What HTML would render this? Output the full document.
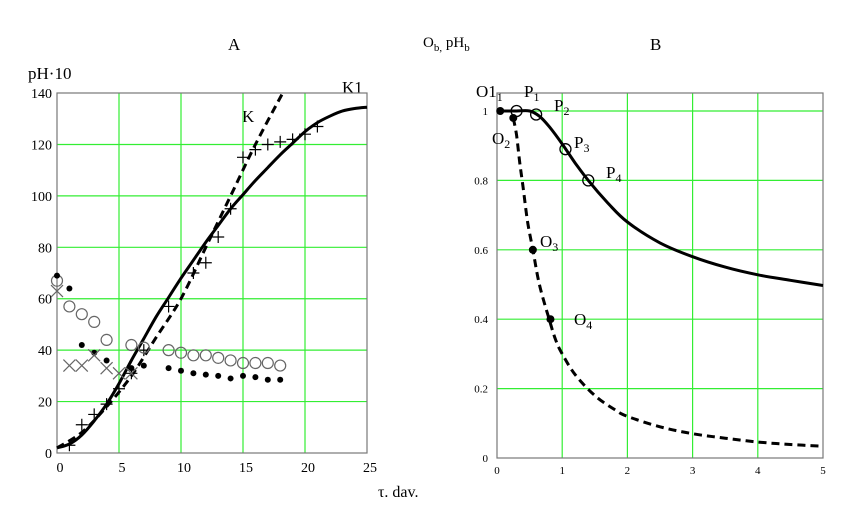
<!DOCTYPE html>
<html><head><meta charset="utf-8"><style>
body{margin:0;background:#fff;}
svg{display:block;font-family:"Liberation Serif",serif;}
</style></head><body>
<svg id="s" width="845" height="506" xmlns="http://www.w3.org/2000/svg">
<text x="228" y="50" font-size="17">A</text>
<text x="650" y="50" font-size="17">B</text>
<text x="423" y="47" font-size="15">O<tspan font-size="11" dy="4">b,</tspan><tspan dy="-4"> pH</tspan><tspan font-size="11" dy="4">b</tspan></text>
<text x="378" y="497" font-size="16">τ. dav.</text>
<text x="28" y="79" font-size="17">pH·10</text>
<text x="242" y="122" font-size="17">K</text>
<text x="342" y="93" font-size="17">K1</text>
<g id="g"></g>
</svg>
<script>
var NS="http://www.w3.org/2000/svg",g=document.getElementById("g");
function el(t,a,txt){var e=document.createElementNS(NS,t);for(var k in a)e.setAttribute(k,a[k]);if(txt!==undefined)e.textContent=txt;g.appendChild(e);return e;}
function AX(t){return 57+12.4*t}function AY(v){return 453-2.571*v}
for(var i=1;i<5;i++){el("line",{x1:AX(i*5),x2:AX(i*5),y1:93,y2:453,stroke:"#33ee33","stroke-width":1.2});}
for(var i=1;i<7;i++){el("line",{x1:57,x2:367,y1:AY(i*20),y2:AY(i*20),stroke:"#33ee33","stroke-width":1.2});}
el("rect",{x:57,y:93,width:310,height:360,fill:"none",stroke:"#777","stroke-width":1.2});
for(var i=0;i<=7;i++)el("text",{x:52,y:AY(i*20)+5,"font-size":14,"text-anchor":"end"},""+i*20);
for(var i=0;i<=5;i++)el("text",{x:AX(i*5)+3,y:472,"font-size":14,"text-anchor":"middle"},""+i*5);
function pl(pts,fx,fy,extra){
 var P=pts.map(function(p){return [fx(p[0]),fy(p[1])]});
 var d="M"+P[0][0].toFixed(1)+","+P[0][1].toFixed(1);
 for(var i=0;i<P.length-1;i++){var p0=P[i>0?i-1:0],p1=P[i],p2=P[i+1],p3=P[i+2<P.length?i+2:i+1];
  var c1=[p1[0]+(p2[0]-p0[0])/6,p1[1]+(p2[1]-p0[1])/6],c2=[p2[0]-(p3[0]-p1[0])/6,p2[1]-(p3[1]-p1[1])/6];
  d+="C"+c1[0].toFixed(1)+","+c1[1].toFixed(1)+" "+c2[0].toFixed(1)+","+c2[1].toFixed(1)+" "+p2[0].toFixed(1)+","+p2[1].toFixed(1);}
 var a={d:d,fill:"none",stroke:"#000","stroke-width":3};for(var k in extra)a[k]=extra[k];el("path",a);}
pl([[0,2],[1,3.5],[2,7],[3,12.5],[4,19],[5,27],[6,36],[7,44.5],[8,53],[9,60.5],[10,68],[11,75],[12,82],[13,88.5],[14,95],[15,100.5],[16,106],[17,111],[18,116],[19,120.5],[20,125],[21,128.5],[22,131],[23,133],[24,134],[25,134.5]],AX,AY);
pl([[0,2],[2,8],[4,18],[6,30],[8,45],[10,60],[12,80],[14,100],[16,120],[18.2,140]],AX,AY,{"stroke-dasharray":"8,5"});
[[1,3],[2,11],[3,15],[4,19],[5,25],[6,31],[7,40],[9,57],[11,70],[12,74],[13,84],[14,95],[15,115],[16,118],[17,120],[18,121],[19,122],[20,124],[21,127]].forEach(function(p){var x=AX(p[0]),y=AY(p[1]);el("path",{d:"M"+(x-6)+","+y+"h12M"+x+","+(y-6)+"v12",stroke:"#000","stroke-width":1.2});});
[[0,67],[1,57],[2,54],[3,51],[4,44],[6,42],[7,41],[9,40],[10,39],[11,38],[12,38],[13,37],[14,36],[15,35],[16,35],[17,35],[18,34]].forEach(function(p){el("circle",{cx:AX(p[0]),cy:AY(p[1]),r:5.5,fill:"none",stroke:"#666","stroke-width":1.2});});
[[0,69],[1,64],[2,42],[3,39],[4,36],[6,33],[7,34],[9,33],[10,32],[11,31],[12,30.5],[13,30],[14,29],[15,30],[16,29.5],[17,28.5],[18,28.5]].forEach(function(p){el("circle",{cx:AX(p[0]),cy:AY(p[1]),r:3,fill:"#000"});});
[[0,63],[1,34],[2,34],[3,38],[4,33],[5,31],[6,31]].forEach(function(p){var x=AX(p[0]),y=AY(p[1]);el("path",{d:"M"+(x-6)+","+(y-6)+"l12,12M"+(x+6)+","+(y-6)+"l-12,12",stroke:"#666","stroke-width":1.2});});
function BX(t){return 497+65.2*t}function BY(v){return 458-347*v}
for(var i=1;i<5;i++){el("line",{x1:BX(i),x2:BX(i),y1:93,y2:458,stroke:"#33ee33","stroke-width":1.2});}
for(var i=1;i<=5;i++){el("line",{x1:497,x2:823,y1:BY(i*0.2),y2:BY(i*0.2),stroke:"#33ee33","stroke-width":1.2});}
el("rect",{x:497,y:93,width:326,height:365,fill:"none",stroke:"#777","stroke-width":1.2});
["0","0.2","0.4","0.6","0.8","1"].forEach(function(t,i){el("text",{x:488,y:BY(i*0.2)+4,"font-size":11,"text-anchor":"end"},t);});
for(var i=0;i<=5;i++)el("text",{x:BX(i),y:474,"font-size":11,"text-anchor":"middle"},""+i);
pl([[0.05,1],[0.3,1],[0.5,1],[0.65,0.985],[0.8,0.955],[1,0.905],[1.2,0.85],[1.4,0.8],[1.7,0.735],[2,0.68],[2.5,0.62],[3,0.58],[3.5,0.55],[4,0.528],[4.5,0.512],[5,0.497]],BX,BY);
pl([[0.25,0.98],[0.3,0.93],[0.35,0.85],[0.4,0.78],[0.47,0.68],[0.55,0.6],[0.65,0.5],[0.8,0.4],[0.9,0.34],[1,0.3],[1.2,0.24],[1.5,0.18],[1.8,0.14],[2,0.12],[2.5,0.09],[3,0.07],[3.5,0.057],[4,0.046],[4.5,0.039],[5,0.034]],BX,BY,{"stroke-dasharray":"8,5"});
[[0.05,1],[0.25,0.98],[0.55,0.6],[0.82,0.4]].forEach(function(p){el("circle",{cx:BX(p[0]),cy:BY(p[1]),r:4,fill:"#000"});});
[[0.3,1],[0.6,0.99],[1.05,0.89],[1.4,0.8]].forEach(function(p){el("circle",{cx:BX(p[0]),cy:BY(p[1]),r:5.5,fill:"none",stroke:"#000","stroke-width":1.3});});
function lab(x,y,a,b){var t=el("text",{x:x,y:y,"font-size":17},a);var s=document.createElementNS(NS,"tspan");s.setAttribute("font-size","12");s.setAttribute("dy","4");s.textContent=b;t.appendChild(s);}
lab(476,97,"O1","1");lab(524,97,"P","1");lab(554,111,"P","2");lab(492,144,"O","2");lab(574,148,"P","3");lab(606,178,"P","4");lab(540,247,"O","3");lab(574,325,"O","4");
</script>
</body></html>
